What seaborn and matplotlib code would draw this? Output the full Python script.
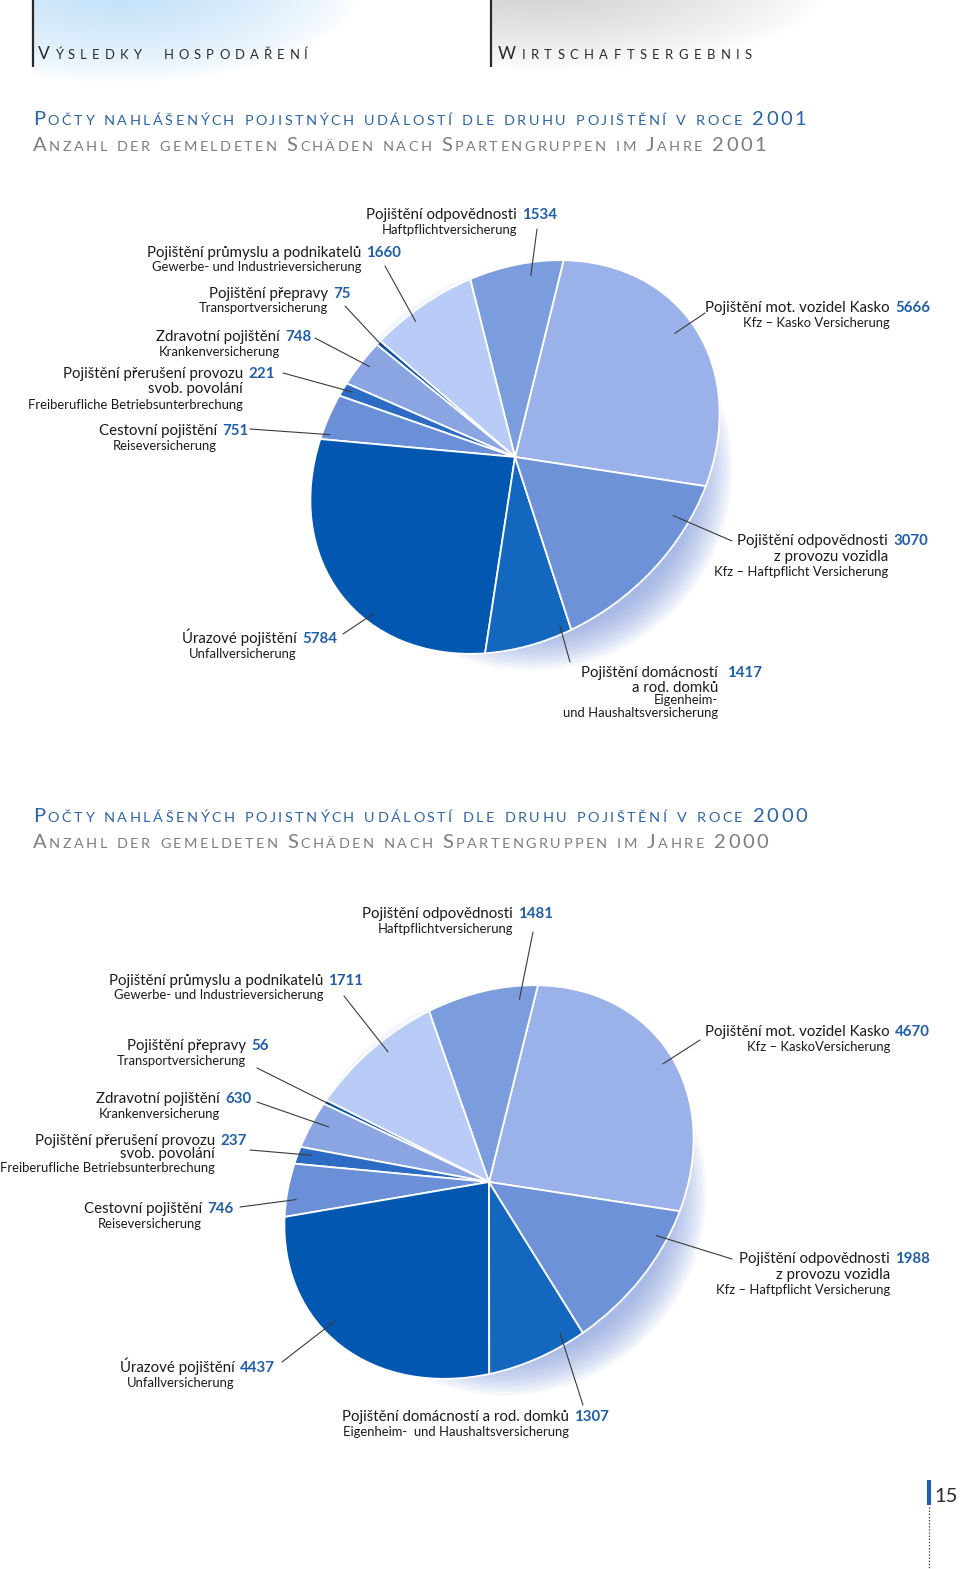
import numpy as np
import matplotlib
matplotlib.use("Agg")
import matplotlib.pyplot as plt
from matplotlib.patches import Circle
from matplotlib.transforms import Affine2D
import seaborn as sns

# ---------------- data ----------------
categories = [
    "Pojištění mot. vozidel Kasko",
    "Pojištění odpovědnosti",
    "Pojištění průmyslu a podnikatelů",
    "Pojištění přepravy",
    "Zdravotní pojištění",
    "Pojištění přerušení provozu svob. povolání",
    "Cestovní pojištění",
    "Úrazové pojištění",
    "Pojištění domácností a rod. domků",
    "Pojištění odpovědnosti z provozu vozidla",
]
values_2001 = [5666, 1534, 1660, 75, 748, 221, 751, 5784, 1417, 3070]
values_2000 = [4670, 1481, 1711, 56, 630, 237, 746, 4437, 1307, 1988]

header_left = "Výsledky hospodaření"
header_right = "Wirtschaftsergebnis"
title_cz_2001 = "Počty nahlášených pojistných událostí dle druhu pojištění v roce 2001"
title_de_2001 = "Anzahl der gemeldeten Schäden nach Spartengruppen im Jahre 2001"
title_cz_2000 = "Počty nahlášených pojistných událostí dle druhu pojištění v roce 2000"
title_de_2000 = "Anzahl der gemeldeten Schäden nach Spartengruppen im Jahre 2000"
page_number = "15"

# ---------------- style ----------------
slice_colors = ["#9BB1EA", "#7B9DDE", "#B9CBF7", "#0B56AA", "#8AA5E1",
                "#2D6CC4", "#6C90D8", "#0258B1", "#1467BE", "#6E92D7"]
TITLE_FONT = "Lato"
LABEL_FONT = "Lato"
FS_MAIN = 10.8
FS_SUB = 9.4
FS_MID = 9.4
TXT = "#1a1a1a"
NUM_BLUE = "#1F5EA8"
TITLE_BLUE = "#2C64A6"
TITLE_GREY = "#7d7d7d"

W, H = 960, 1569
sns.set_theme(style="white")
plt.rcParams["font.family"] = [LABEL_FONT, "DejaVu Sans"]

fig = plt.figure(figsize=(W / 100, H / 100), dpi=100)
ax = fig.add_axes([0, 0, 1, 1])
renderer = fig.canvas.get_renderer()

# ---------------- header gradients ----------------
def gradient(x0, x1, y0, y1, cx, cy, rx, ry, rgb, amax, power):
    xs = np.linspace(x0, x1, 300)
    ys = np.linspace(y0, y1, 80)
    X, Y = np.meshgrid(xs, ys)
    d = np.sqrt(((X - cx) / rx) ** 2 + ((Y - cy) / ry) ** 2)
    a = np.clip(1 - d, 0, 1) ** power * amax
    img = np.zeros((len(ys), len(xs), 4))
    img[..., 0], img[..., 1], img[..., 2] = [c / 255 for c in rgb]
    img[..., 3] = a
    ax.imshow(img, extent=(x0, x1, y1, y0), origin="upper", zorder=0,
              interpolation="bilinear", aspect="auto")

gradient(33, 400, 0, 90, 120, -12, 240, 95, (190, 223, 248), 1.0, 0.7)
gradient(491, 860, 0, 90, 540, -12, 290, 82, (205, 205, 205), 0.95, 0.8)
for xv in (33, 491):
    ax.plot([xv, xv], [0, 67], color="#2a2a2a", lw=1.6, zorder=2, solid_capstyle="butt")


def tracked(x0, x1, baseline, text, big, small, color, family=TITLE_FONT, space=0.35):
    arts, widths = [], []
    for ch in text:
        if ch == " ":
            arts.append(None)
            widths.append(small * 100 / 72 * space)
            continue
        sz = big if (ch.isupper() or ch.isdigit()) else small
        t = ax.text(0, baseline, ch.upper(), fontsize=sz, color=color, family=family,
                    ha="left", va="baseline", zorder=5)
        arts.append(t)
        widths.append(t.get_window_extent(renderer).width)
    track = (x1 - x0 - sum(widths)) / (len(widths) - 1)
    x = x0
    for a, w in zip(arts, widths):
        if a is not None:
            a.set_x(x)
        x += w + track


tracked(38, 308, 59, header_left, 12.5, 9.4, "#2a2a2a", space=0.9)
tracked(498, 752, 59, header_right, 12.5, 9.4, "#2a2a2a")

tracked(33, 806, 125, title_cz_2001, 14.5, 10.4, TITLE_BLUE)
tracked(33, 766, 151, title_de_2001, 14.5, 10.4, TITLE_GREY)
tracked(33, 807, 822, title_cz_2000, 14.5, 10.4, TITLE_BLUE)
tracked(33, 768, 848, title_de_2000, 14.5, 10.4, TITLE_GREY)

# ---------------- pies ----------------
A_AX, B_AX, TILT = 222, 177, 40

layout_2001 = [
    dict(xr=890, base=312, name="Pojištění mot. vozidel Kasko", lines=[("Kfz – Kasko Versicherung", "s", 327)], start=(705, 313), t=0.535, rf=0.91),
    dict(xr=517, base=219, name="Pojištění odpovědnosti", lines=[("Haftpflichtversicherung", "s", 234)], start=(537, 229), t=0.34, rf=0.93),
    dict(xr=361, base=257, name="Pojištění průmyslu a podnikatelů", lines=[("Gewerbe- und Industrieversicherung", "s", 271)], start=(385, 266), t=0.635, rf=0.95),
    dict(xr=328, base=298, name="Pojištění přepravy", lines=[("Transportversicherung", "s", 312)], start=(345, 306), t=0.5, rf=0.97),
    dict(xr=280, base=341, name="Zdravotní pojištění", lines=[("Krankenversicherung", "s", 356)], start=(315, 338), t=0.46, rf=0.95),
    dict(xr=243, base=378, name="Pojištění přerušení provozu", lines=[("svob. povolání", "m", 393), ("Freiberufliche Betriebsunterbrechung", "x", 409)], start=(283, 373), t=0.42, rf=0.95),
    dict(xr=217, base=435, name="Cestovní pojištění", lines=[("Reiseversicherung", "s", 450)], start=(250, 429), t=0.88, rf=0.96),
    dict(xr=297, base=643, name="Úrazové pojištění", lines=[("Unfallversicherung", "s", 658)], start=(343, 634), t=0.62, rf=0.95),
    dict(xr=718, base=677, name="Pojištění domácností", lines=[("a rod. domků", "m", 692), ("Eigenheim-", "s", 704), ("und Haushaltsversicherung", "s", 717)], start=(570, 662), t=0.89, rf=0.95, gap=9),
    dict(xr=888, base=545, name="Pojištění odpovědnosti", lines=[("z provozu vozidla", "m", 561), ("Kfz – Haftpflicht Versicherung", "s", 576)], start=(732, 541), t=0.8, rf=0.91),
]
layout_2000 = [
    dict(xr=890, base=1036, name="Pojištění mot. vozidel Kasko", lines=[("Kfz – KaskoVersicherung", "s", 1051)], start=(700, 1040), t=0.49, rf=0.95),
    dict(xr=513, base=918, name="Pojištění odpovědnosti", lines=[("Haftpflichtversicherung", "s", 933)], start=(533, 932), t=0.15, rf=0.93),
    dict(xr=323, base=985, name="Pojištění průmyslu a podnikatelů", lines=[("Gewerbe- und Industrieversicherung", "s", 999)], start=(344, 996), t=0.42, rf=0.93),
    dict(xr=246, base=1050, name="Pojištění přepravy", lines=[("Transportversicherung", "s", 1065)], start=(257, 1068), t=0.5, rf=0.97),
    dict(xr=220, base=1103, name="Zdravotní pojištění", lines=[("Krankenversicherung", "s", 1118)], start=(257, 1102), t=0.42, rf=0.91),
    dict(xr=215, base=1145, name="Pojištění přerušení provozu", lines=[("svob. povolání", "m", 1158), ("Freiberufliche Betriebsunterbrechung", "x", 1172)], start=(250, 1150), t=0.38, rf=0.93),
    dict(xr=202, base=1213, name="Cestovní pojištění", lines=[("Reiseversicherung", "s", 1228)], start=(240, 1207), t=0.69, rf=0.95),
    dict(xr=235, base=1372, name="Úrazové pojištění", lines=[("Unfallversicherung", "s", 1387)], start=(282, 1362), t=0.42, rf=0.93),
    dict(xr=569, base=1421, name="Pojištění domácností a rod. domků", lines=[("Eigenheim-  und Haushaltsversicherung", "s", 1436)], start=(583, 1405), t=0.80, rf=0.93),
    dict(xr=890, base=1263, name="Pojištění odpovědnosti", lines=[("z provozu vozidla", "m", 1279), ("Kfz – Haftpflicht Versicherung", "s", 1294)], start=(732, 1259), t=0.80, rf=0.94),
]

palette = sns.color_palette(slice_colors)
SIZE = {"m": FS_MAIN, "s": FS_SUB, "x": FS_MID}


def draw_pie(values, center, layout):
    cx, cy = center
    # soft glow to the lower right
    for k in range(12):
        r = 166 + k * 3.2
        ax.add_patch(Circle((cx + 16, cy + 12), r, facecolor="#7391DA", edgecolor="none",
                            alpha=0.07, zorder=1))
    T = (Affine2D().rotate_deg(-TILT).scale(A_AX, B_AX).rotate_deg(TILT)
         .scale(1, -1).translate(cx, cy))
    wedges, _ = ax.pie(values, colors=palette, startangle=-15, counterclock=True,
                       radius=1, center=(0, 0),
                       wedgeprops=dict(edgecolor="white", linewidth=1.3))
    for w in wedges:
        w.set_transform(T + ax.transData)
        w.set_zorder(3)
    for w, val, lab in zip(wedges, values, layout):
        th = np.deg2rad(w.theta1 + lab["t"] * (w.theta2 - w.theta1))
        ex, ey = T.transform((lab["rf"] * np.cos(th), lab["rf"] * np.sin(th)))
        sx, sy = lab["start"]
        ax.plot([sx, ex], [sy, ey], color="#3a3a3a", lw=0.8, zorder=4)
        ax.text(lab["xr"], lab["base"], lab["name"], ha="right", va="baseline",
                fontsize=FS_MAIN, color=TXT, family=LABEL_FONT, zorder=5)
        ax.text(lab["xr"] + lab.get("gap", 5), lab["base"], str(val), ha="left",
                va="baseline", fontsize=FS_MAIN, color=NUM_BLUE, weight="bold",
                family=LABEL_FONT, zorder=5)
        for txt, kind, yb in lab["lines"]:
            ax.text(lab["xr"], yb, txt, ha="right", va="baseline",
                    fontsize=SIZE[kind], color=TXT, family=LABEL_FONT, zorder=5)


draw_pie(values_2001, (515, 457), layout_2001)
draw_pie(values_2000, (489, 1182), layout_2000)

# ---------------- page number ----------------
ax.plot([929, 929], [1480, 1505], color="#1F5EA8", lw=3, solid_capstyle="butt", zorder=5)
ax.plot([929, 929], [1507, 1569], color="#333333", lw=0.9, ls=(0, (1, 1.5)), zorder=5)
ax.text(934, 1502, page_number, ha="left", va="baseline", fontsize=14.5, color="#2a2a2a",
        family=TITLE_FONT, zorder=5)

ax.set_xlim(0, W)
ax.set_ylim(H, 0)
ax.set_aspect("auto")
ax.axis("off")
fig.savefig("out.png", dpi=100)
